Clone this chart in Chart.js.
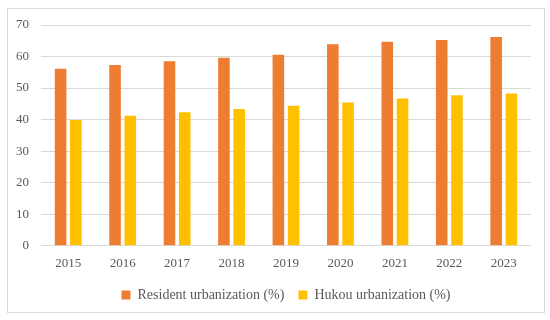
<!DOCTYPE html>
<html>
<head>
<meta charset="utf-8">
<script src="https://cdn.jsdelivr.net/npm/chart.js@4/dist/chart.umd.min.js"></script>
<style>
  html, body { margin: 0; padding: 0; background: #fff; }
  #frame {
    position: absolute; left: 7px; top: 8px;
    width: 536px; height: 303px;
    border: 1px solid #d9d9d9;
  }
  #chart { position: absolute; left: 0; top: 4px; }
</style>
</head>
<body>
<div id="frame"></div>
<canvas id="chart" width="550" height="316"></canvas>
<script>
/* data */
const years = ['2015', '2016', '2017', '2018', '2019', '2020', '2021', '2022', '2023'];
const resident = [56.1, 57.35, 58.52, 59.58, 60.6, 63.89, 64.72, 65.22, 66.16];
const hukou = [39.9, 41.2, 42.35, 43.37, 44.38, 45.4, 46.7, 47.7, 48.3];
const yTicks = [0, 10, 20, 30, 40, 50, 60, 70];

const serif = '"Liberation Serif", "DejaVu Serif", serif';

new Chart(document.getElementById('chart'), {
  type: 'bar',
  data: {
    labels: years,
    datasets: [
      { label: 'Resident urbanization (%)', data: resident, backgroundColor: '#ed7d31',
        categoryPercentage: 0.56, barPercentage: 0.76 },
      { label: 'Hukou urbanization (%)', data: hukou, backgroundColor: '#ffc000',
        categoryPercentage: 0.56, barPercentage: 0.76 },
    ],
  },
  options: {
    responsive: false,
    animation: false,
    layout: { padding: { left: 4, right: 19, top: 21, bottom: 8 } },
    plugins: {
      legend: {
        position: 'bottom',
        fullSize: false,
        labels: {
          boxWidth: 9, boxHeight: 9, padding: 14,
          color: '#595959', font: { family: serif, size: 14 },
        },
      },
      tooltip: { enabled: false },
    },
    scales: {
      x: {
        grid: { display: false },
        border: { display: false },
        ticks: { color: '#595959', font: { family: serif, size: 13, lineHeight: 1.1 }, padding: 3 },
      },
      y: {
        min: 0, max: 70,
        afterBuildTicks: axis => { axis.ticks = yTicks.map(v => ({ value: v })); },
        grid: { color: '#d9d9d9', drawTicks: false },
        border: { display: false },
        ticks: { color: '#595959', font: { family: serif, size: 13 }, padding: 12 },
      },
    },
  },
});
</script>
</body>
</html>
